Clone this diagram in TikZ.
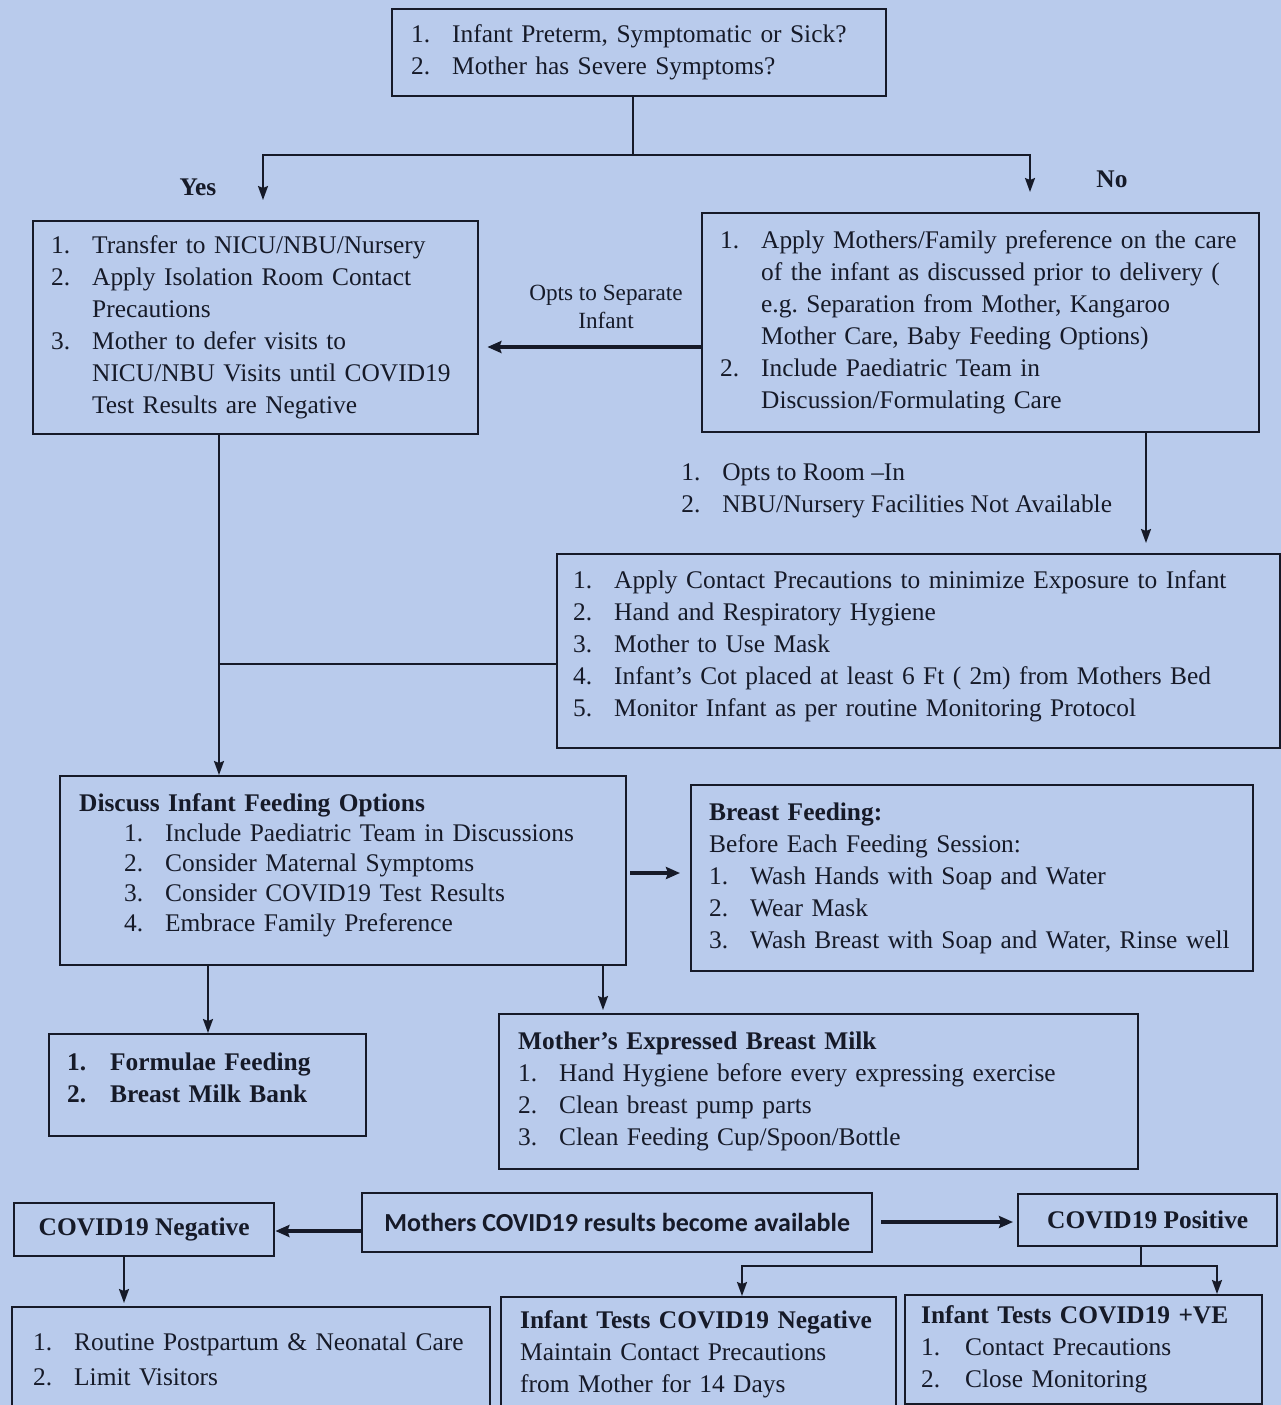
\documentclass[tikz,border=0pt]{standalone}
\usepackage{fontspec}
\setmainfont{Liberation Serif}
\newfontfamily\calfont{Carlito}
\usetikzlibrary{arrows.meta, positioning}

\definecolor{paper}{RGB}{185,203,236}
\definecolor{ink}{RGB}{22,26,40}

\newcommand{\bodyfont}{\fontsize{12.7}{16}\selectfont}
\newcommand{\pad}[1]{\leftskip=#1\relax}
\newcommand{\nitem}[2][20.5pt]{\makebox[#1][l]{#2.}}
\newcommand{\nskip}[1][20.5pt]{\hspace*{#1}}
\frenchspacing

\begin{document}
\begin{tikzpicture}[x=0.5pt, y=-0.5pt,
    box/.style={rectangle, draw=ink, line width=1.2pt, anchor=north west,
        inner sep=0pt, align=left, text=ink, font=\bodyfont},
    cbox/.style={rectangle, draw=ink, line width=1.2pt, anchor=north west,
        align=center, text=ink, font=\bodyfont\bfseries},
    lab/.style={rectangle, align=left, text=ink, inner sep=0pt, font=\bodyfont},
    line/.style={draw=ink, line width=1pt},
    arr/.style={line, -{Stealth[length=7pt, width=5pt, inset=1pt]}},
    bigarr/.style={draw=ink, line width=2pt, -{Stealth[length=7pt, width=6pt, inset=1pt]}}]

    \useasboundingbox (0,0) rectangle (1281,1405);
    \clip (0,0) rectangle (1281,1405);
    \fill[paper] (0,0) rectangle (1281,1405);

    % question
    \node[box, text width=247pt, minimum height=43.5pt] (n_top) at (391,8)
        {\pad{9.5pt}\nitem{1}Infant Preterm, Symptomatic or Sick?\\
         \nitem{2}Mother has Severe Symptoms?\par};

    % yes / no branches
    \node[box, text width=222.5pt, minimum height=106.5pt] (n_yes) at (32,220)
        {\pad{9pt}\nitem{1}Transfer to NICU/NBU/Nursery\\
         \nitem{2}Apply Isolation Room Contact\\
         \nskip Precautions\\
         \nitem{3}Mother to defer visits to\\
         \nskip NICU/NBU Visits until COVID19\\
         \nskip Test Results are Negative\par};

    \node[box, text width=278.5pt, minimum height=109.5pt] (n_no) at (701,212)
        {\pad{9pt}\nitem{1}Apply Mothers/Family preference on the care\\
         \nskip of the infant as discussed prior to delivery (\\
         \nskip e.g. Separation from Mother, Kangaroo\\
         \nskip Mother Care, Baby Feeding Options)\\
         \nitem{2}Include Paediatric Team in\\
         \nskip Discussion/Formulating Care\par};

    \node[box, text width=361.5pt, minimum height=97pt, text depth=72pt] (n_contact) at (556,553)
        {\pad{8pt}\nitem{1}Apply Contact Precautions to minimize Exposure to Infant\\
         \nitem{2}Hand and Respiratory Hygiene\\
         \nitem{3}Mother to Use Mask\\
         \nitem{4}Infant’s Cot placed at least 6 Ft ( 2m) from Mothers Bed\\
         \nitem{5}Monitor Infant as per routine Monitoring Protocol\par};

    % feeding
    \node[box, text width=283pt, minimum height=94.5pt, font=\fontsize{12.7}{15}\selectfont, text depth=68pt] (n_discuss) at (59,775)
        {\pad{9.5pt}\textbf{Discuss Infant Feeding Options}\\
         \nskip[22.5pt]\nitem{1}Include Paediatric Team in Discussions\\
         \nskip[22.5pt]\nitem{2}Consider Maternal Symptoms\\
         \nskip[22.5pt]\nitem{3}Consider COVID19 Test Results\\
         \nskip[22.5pt]\nitem{4}Embrace Family Preference\par};

    \node[box, text width=281pt, minimum height=93pt] (n_breast) at (690,784)
        {\pad{9pt}\textbf{Breast Feeding:}\\
         Before Each Feeding Session:\\
         \nitem{1}Wash Hands with Soap and Water\\
         \nitem{2}Wear Mask\\
         \nitem{3}Wash Breast with Soap and Water, Rinse well\par};

    \node[box, text width=158.5pt, minimum height=51pt, font=\bodyfont\bfseries, text depth=24pt] (n_formula) at (48,1033)
        {\pad{9pt}\nitem[21.5pt]{1}Formulae Feeding\\
         \nitem[21.5pt]{2}Breast Milk Bank\par};

    \node[box, text width=319.5pt, minimum height=77.5pt] (n_ebm) at (498,1013)
        {\pad{9.5pt}\textbf{Mother’s Expressed Breast Milk}\\
         \nitem{1}Hand Hygiene before every expressing exercise\\
         \nitem{2}Clean breast pump parts\\
         \nitem{3}Clean Feeding Cup/Spoon/Bottle\par};

    % results
    \node[cbox, minimum width=255pt, minimum height=29.5pt, font=\calfont\fontsize{13}{16}\selectfont\bfseries] (n_result) at (361,1192)
        {Mothers COVID19 results become available};
    \node[cbox, minimum width=130pt, minimum height=26.5pt] (n_neg) at (13,1202) {COVID19 Negative};
    \node[cbox, minimum width=129.5pt, minimum height=26pt] (n_pos) at (1017,1193) {COVID19 Positive};

    \node[box, text width=239pt, minimum height=52.5pt] (n_care) at (11,1306)
        {\pad{10.5pt}\nitem{1}Routine Postpartum \& Neonatal Care\\[1.5pt]
         \nitem{2}Limit Visitors\par};
    \node[box, text width=197.5pt, minimum height=57pt] (n_infneg) at (500,1296)
        {\pad{9.5pt}\textbf{Infant Tests COVID19 Negative}\\
         Maintain Contact Precautions\\
         from Mother for 14 Days\par};
    \node[box, text width=178.5pt, minimum height=54.5pt] (n_infpos) at (904,1294)
        {\pad{8pt}\textbf{Infant Tests COVID19 +VE}\\
         \nitem[22pt]{1}Contact Precautions\\
         \nitem[22pt]{2}Close Monitoring\par};

    % labels
    \node[lab, font=\bodyfont\bfseries] (l_yes) at (198,187) {Yes};
    \node[lab, font=\bodyfont\bfseries] (l_no) at (1112,179) {No};
    \node[lab, align=center, font=\fontsize{11.6}{14}\selectfont] (l_sep) at (606,307) {Opts to Separate\\Infant};
    \node[lab, anchor=west] (l_room) at (681,491)
        {\nitem{1}Opts to Room –In\\
         \nitem{2}NBU/Nursery Facilities Not Available};

    % connectors
    \coordinate (fork) at (633,155);
    \coordinate (yes_in) at (263,200);
    \coordinate (no_in) at (1030,192);
    \draw[line] (n_top.south -| fork) -- (fork);
    \draw[arr] (fork) -| (yes_in);
    \draw[arr] (fork) -| (no_in);

    \coordinate (sep_y) at (0,347);
    \draw[bigarr, line width=1.6pt, shorten >=4pt] (n_no.west |- sep_y) -- (n_yes.east |- sep_y);

    \coordinate (feed_x) at (219,0);
    \draw[arr] (n_yes.south -| feed_x) -- (n_discuss.north -| feed_x);
    \coordinate (room_x) at (1146,0);
    \draw[arr, shorten >=5pt] (n_no.south -| room_x) -- (n_contact.north -| room_x);
    \coordinate (join_y) at (0,664);
    \draw[line] (n_contact.west |- join_y) -- (feed_x |- join_y);

    \coordinate (bf_y) at (0,873);
    \draw[bigarr, shorten <=1.5pt, shorten >=5pt] (n_discuss.east |- bf_y) -- (n_breast.west |- bf_y);
    \coordinate (fm_x) at (208,0);
    \draw[arr] (n_discuss.south -| fm_x) -- (n_formula.north -| fm_x);
    \coordinate (eb_x) at (603,0);
    \draw[arr, shorten >=1.5pt] (n_discuss.south -| eb_x) -- (n_ebm.north -| eb_x);

    \coordinate (neg_y) at (0,1231);
    \draw[bigarr] (n_result.west |- neg_y) -- (n_neg.east |- neg_y);
    \coordinate (pos_y) at (0,1222);
    \draw[bigarr, shorten <=4pt, shorten >=2pt] (n_result.east |- pos_y) -- (n_pos.west |- pos_y);

    \coordinate (care_x) at (124,0);
    \draw[arr, shorten >=1.5pt] (n_neg.south -| care_x) -- (n_care.north -| care_x);
    \coordinate (split) at (1141,1266);
    \coordinate (infneg_x) at (742,0);
    \coordinate (infpos_x) at (1217,0);
    \draw[line] (n_pos.south -| split) -- (split);
    \draw[arr] (split) -| (n_infneg.north -| infneg_x);
    \draw[arr] (split) -| (n_infpos.north -| infpos_x);
\end{tikzpicture}
\end{document}
